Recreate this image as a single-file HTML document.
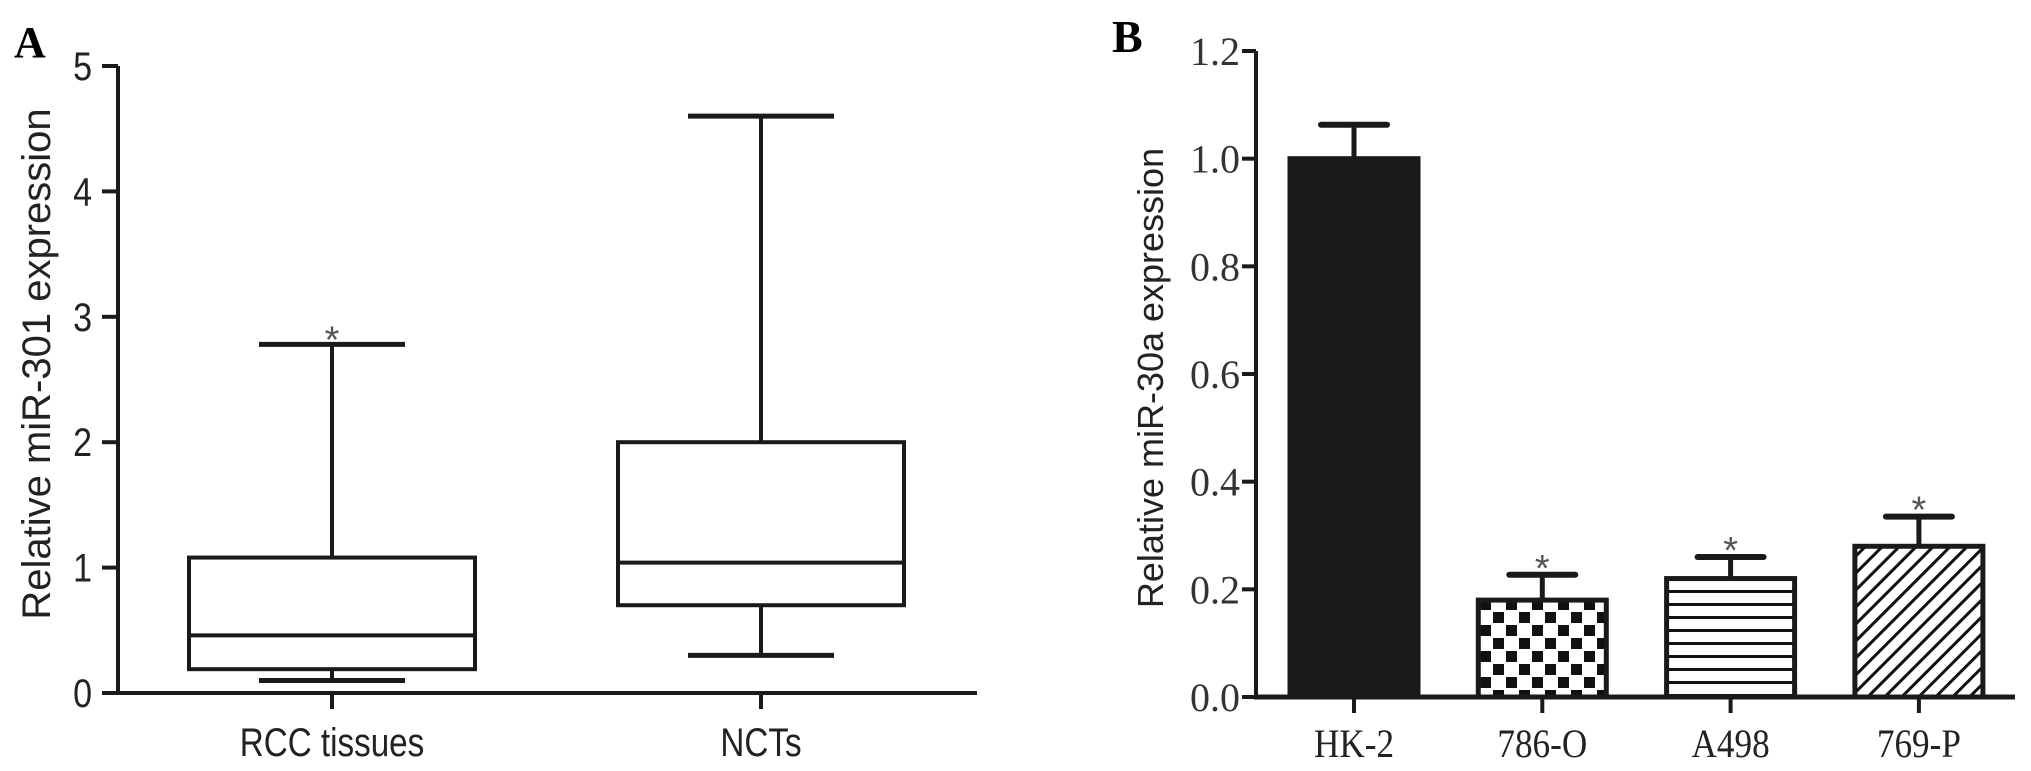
<!DOCTYPE html>
<html><head><meta charset="utf-8"><style>
html,body{margin:0;padding:0;background:#fff;}
svg{display:block;}
.sans{font-family:"Liberation Sans",Arial,sans-serif;}
.serif{font-family:"Liberation Serif","Times New Roman",serif;}
</style></head><body>
<svg id="fig" width="2031" height="771" viewBox="0 0 2031 771" xmlns="http://www.w3.org/2000/svg">
<defs>
<pattern id="checker" x="1479" y="0" width="26" height="26" patternUnits="userSpaceOnUse">
<rect width="26" height="26" fill="#fff"/>
<rect x="1" y="1" width="11" height="11" fill="#111"/>
<rect x="14" y="14" width="11" height="11" fill="#111"/>
</pattern>
<pattern id="hlines" width="20" height="13" patternUnits="userSpaceOnUse">
<rect width="20" height="13" fill="#fff"/>
<rect y="5" width="20" height="3" fill="#111"/>
</pattern>
<pattern id="diag" width="12" height="12" patternUnits="userSpaceOnUse" patternTransform="rotate(45)">
<rect width="12" height="12" fill="#fff"/>
<rect x="0" width="3" height="12" fill="#111"/>
</pattern>
</defs>
<text x="14" y="57" class="serif" font-weight="bold" font-size="44">A</text>
<text x="1112" y="52" class="serif" font-weight="bold" font-size="46">B</text>
<g id="chartA"></g>
<g id="chartB"></g>
</svg>
<script>
// ---- Chart A data ----
const aCategories = ["RCC tissues", "NCTs"];
const aMin = [0.10, 0.30];
const aQ1 = [0.19, 0.70];
const aMedian = [0.46, 1.04];
const aQ3 = [1.08, 2.00];
const aMax = [2.78, 4.60];
const aSig = [true, false];
const aTicks = [0, 1, 2, 3, 4, 5];
// ---- Chart B data ----
const bCategories = ["HK-2", "786-O", "A498", "769-P"];
const bValues = [1.00, 0.18, 0.22, 0.28];
const bErrors = [0.063, 0.047, 0.04, 0.055];
const bSig = [false, true, true, true];
const bTickLabels = ["0.0", "0.2", "0.4", "0.6", "0.8", "1.0", "1.2"];
const bTicks = [0, 0.2, 0.4, 0.6, 0.8, 1.0, 1.2];
const bFills = ["#1a1a1a", "url(#checker)", "url(#hlines)", "url(#diag)"];

const NS = "http://www.w3.org/2000/svg";
function mk(parent, tag, attrs, text) {
  const e = document.createElementNS(NS, tag);
  for (const k in attrs) e.setAttribute(k, attrs[k]);
  if (text !== undefined) e.textContent = text;
  parent.appendChild(e);
  return e;
}
const S = "#1a1a1a";

// ---- Chart A ----
(function () {
  const g = document.getElementById("chartA");
  const x0 = 118, x1 = 977, y0 = 693, yTop = 66;
  const yA = v => y0 - (v / 5) * (y0 - yTop);
  const xA = i => 332 + i * 429;
  let e = mk(g, "line", {x1: x0, y1: yTop, x2: x0, y2: y0 + 2, stroke: S, "stroke-width": 4});
  
  
  e = mk(g, "line", {x1: x0 - 2, y1: y0, x2: x1, y2: y0, stroke: S, "stroke-width": 4});
  
  
  aTicks.forEach(t => {
    const y = yA(t);
    let l = mk(g, "line", {x1: x0 - 16, y1: y, x2: x0, y2: y, stroke: S, "stroke-width": 4});
    
    
    let tx = mk(g, "text", {x: 0, y: 0, transform: "translate(" + (x0 - 26) + "," + (y + 14) + ") scale(0.85,1)", "text-anchor": "end", "font-size": 40, class: "sans", fill: "#222"}, String(t));
    
    
  });
  let yt = mk(g, "text", {x: 0, y: 0, transform: "translate(50,364) rotate(-90)", "text-anchor": "middle", "font-size": 40, class: "sans", fill: "#222"}, "Relative miR-301 expression");
  
  
  aCategories.forEach((c, i) => {
    const cx = xA(i), hw = 143, cw = 73;
    let b = mk(g, "g", {});
    
    
    mk(b, "line", {x1: cx, y1: yA(aMax[i]), x2: cx, y2: yA(aQ3[i]), stroke: S, "stroke-width": 4});
    mk(b, "line", {x1: cx, y1: yA(aQ1[i]), x2: cx, y2: yA(aMin[i]), stroke: S, "stroke-width": 4});
    mk(b, "line", {x1: cx - cw, y1: yA(aMax[i]), x2: cx + cw, y2: yA(aMax[i]), stroke: S, "stroke-width": 5});
    mk(b, "line", {x1: cx - cw, y1: yA(aMin[i]), x2: cx + cw, y2: yA(aMin[i]), stroke: S, "stroke-width": 5});
    mk(b, "rect", {x: cx - hw, y: yA(aQ3[i]), width: hw * 2, height: yA(aQ1[i]) - yA(aQ3[i]), fill: "#fff", stroke: S, "stroke-width": 4});
    mk(b, "line", {x1: cx - hw, y1: yA(aMedian[i]), x2: cx + hw, y2: yA(aMedian[i]), stroke: S, "stroke-width": 4});
    let tk = mk(g, "line", {x1: cx, y1: y0, x2: cx, y2: y0 + 16, stroke: S, "stroke-width": 4});
    
    
    let lb = mk(g, "text", {x: 0, y: 0, transform: "translate(" + cx + ",756) scale(0.83,1)", "text-anchor": "middle", "font-size": 40, class: "sans", fill: "#222"}, c);
    
    
    if (aSig[i]) {
      let s = mk(g, "text", {x: cx, y: yA(aMax[i]) + 8, "text-anchor": "middle", "font-size": 38, class: "sans", fill: "#555"}, "*");
      
      
    }
  });
})();

// ---- Chart B ----
(function () {
  const g = document.getElementById("chartB");
  const x0 = 1256, x1 = 2015, y0 = 697, yTop = 51;
  const yB = v => y0 - (v / 1.2) * (y0 - yTop);
  const xB = i => 1354 + i * 188.3;
  let e = mk(g, "line", {x1: x0, y1: yTop, x2: x0, y2: y0 + 2, stroke: S, "stroke-width": 4});
  
  
  bTicks.forEach((t, k) => {
    const y = yB(t);
    let l = mk(g, "line", {x1: x0 - 14, y1: y, x2: x0, y2: y, stroke: S, "stroke-width": 4});
    
    
    let tx = mk(g, "text", {x: x0 - 16, y: y + 14, "text-anchor": "end", "font-size": 40, class: "serif", fill: "#333"}, bTickLabels[k]);
    
    
  });
  let yt = mk(g, "text", {x: 0, y: 0, transform: "translate(1163,378) rotate(-90)", "text-anchor": "middle", "font-size": 36, class: "sans", fill: "#222"}, "Relative miR-30a expression");
  
  
  bCategories.forEach((c, i) => {
    const cx = xB(i), hw = 64, cw = 33;
    const top = yB(bValues[i]), cap = yB(bValues[i] + bErrors[i]);
    mk(g, "line", {x1: cx, y1: cap, x2: cx, y2: top, stroke: S, "stroke-width": 5});
    let ec = mk(g, "line", {x1: cx - cw, y1: cap, x2: cx + cw, y2: cap, stroke: S, "stroke-width": 6, "stroke-linecap": "round"});
    
    
    let r = mk(g, "rect", {x: cx - hw, y: top, width: hw * 2, height: y0 - top, fill: bFills[i], stroke: S, "stroke-width": 5});
    
    
    let tk = mk(g, "line", {x1: cx, y1: y0, x2: cx, y2: y0 + 16, stroke: S, "stroke-width": 4});
    
    
    let lb = mk(g, "text", {x: 0, y: 0, transform: "translate(" + cx + ",757) scale(0.88,1)", "text-anchor": "middle", "font-size": 40, class: "serif", fill: "#222"}, c);
    
    
    if (bSig[i]) {
      let s = mk(g, "text", {x: cx, y: cap + 6, "text-anchor": "middle", "font-size": 38, class: "sans", fill: "#555"}, "*");
      
      
    }
  });
  let xa = mk(g, "line", {x1: x0 - 2, y1: y0, x2: x1, y2: y0, stroke: S, "stroke-width": 5});
  
  
})();
</script>
</body></html>
